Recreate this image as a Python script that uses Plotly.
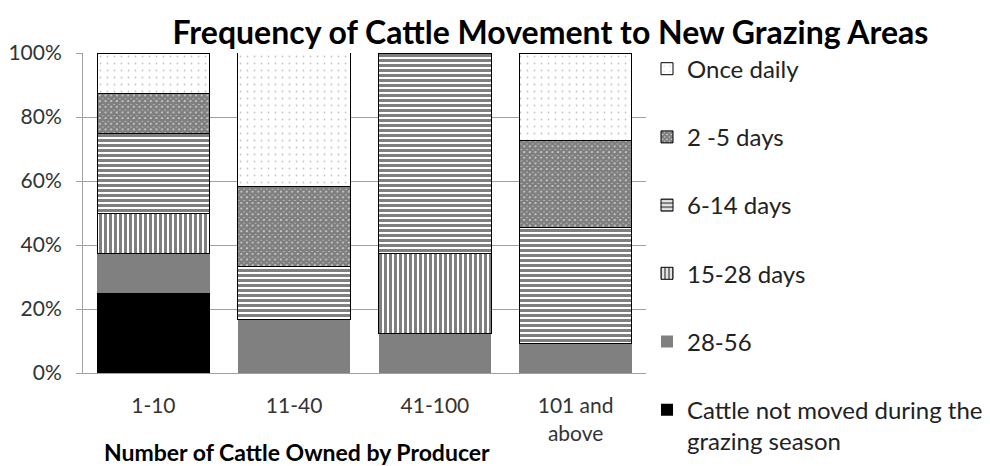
import plotly.graph_objects as go

categories = ["1-10", "11-40", "41-100", "101 and<br>above"]
series_names = [
    "Cattle not moved during the<br>grazing season",
    "28-56",
    "15-28 days",
    "6-14 days",
    "2 -5 days",
    "Once daily",
]
not_moved = [25.0, 0.0, 0.0, 0.0]
d28_56 = [12.5, 16.67, 12.5, 9.09]
d15_28 = [12.5, 0.0, 25.0, 0.0]
d6_14 = [25.0, 16.67, 62.5, 36.36]
d2_5 = [12.5, 25.0, 0.0, 27.27]
once_daily = [12.5, 41.67, 0.0, 27.28]
y_ticks = [0, 20, 40, 60, 80, 100]
y_tick_labels = ["0%", "20%", "40%", "60%", "80%", "100%"]

values = [not_moved, d28_56, d15_28, d6_14, d2_5, once_daily]

styles = [
    dict(color="#000000", pattern=None, line=0),
    dict(color="#808080", pattern=None, line=0),
    dict(color="#ffffff", pattern=dict(shape="|", size=5, solidity=0.6, fgcolor="#000000", bgcolor="#ffffff"), line=1),
    dict(color="#ffffff", pattern=dict(shape="-", size=5, solidity=0.6, fgcolor="#000000", bgcolor="#ffffff"), line=1),
    dict(color="#ffffff", pattern=dict(shape="x", size=4, solidity=0.9, fgcolor="#000000", bgcolor="#ffffff"), line=1),
    dict(color="#ffffff", pattern=dict(shape=".", size=7, solidity=0.05, fgcolor="#888888", bgcolor="#ffffff"), line=1),
]

fig = go.Figure()
n = len(series_names)
for i, (name, vals, st) in enumerate(zip(series_names, values, styles)):
    marker = dict(color=st["color"], line=dict(color="#000000", width=st["line"]))
    if st["pattern"]:
        marker["pattern"] = st["pattern"]
    fig.add_trace(go.Bar(
        name=name, x=categories, y=vals, marker=marker,
        legendgroup=f"g{i}", legendrank=n - i,
    ))

font_family = "Lato, Open Sans, sans-serif"

fig.update_layout(
    barmode="stack",
    bargap=0.2,
    width=990, height=466,
    paper_bgcolor="#ffffff", plot_bgcolor="#ffffff",
    margin=dict(l=83, r=344, t=53, b=93, autoexpand=False),
    font=dict(family=font_family, color="#222222"),
    title=dict(
        text="<b>Frequency of Cattle Movement to New Grazing Areas</b>",
        x=0.556, xanchor="center", y=0.93, yanchor="middle",
        font=dict(size=32, color="#000000", family=font_family),
    ),
    legend=dict(
        x=1.0018, xanchor="left", y=1.02, yanchor="top",
        traceorder="grouped",
        tracegroupgap=34,
        valign="top",
        maxheight=466,
        font=dict(size=24, color="#222222", family=font_family),
        bgcolor="rgba(0,0,0,0)",
    ),
    showlegend=True,
)

fig.update_yaxes(
    range=[0, 100],
    tickvals=y_ticks, ticktext=y_tick_labels,
    showgrid=True, gridcolor="#a0a0a0", gridwidth=1,
    showline=True, linecolor="#a0a0a0", linewidth=1,
    ticks="outside", ticklen=6, tickcolor="#a0a0a0",
    tickfont=dict(size=21, color="#333333"),
    ticklabelstandoff=10,
    zeroline=False,
)
fig.update_xaxes(
    showline=True, linecolor="#a0a0a0", linewidth=1,
    ticks="", tickfont=dict(size=21, color="#333333"),
    ticklabelstandoff=14,
)

fig.add_annotation(
    text="<b>Number of Cattle Owned by Producer</b>",
    xref="paper", yref="paper", x=(297 - 83) / 563, y=-0.247,
    xanchor="center", yanchor="middle", showarrow=False,
    font=dict(size=23, color="#000000", family=font_family),
)

fig.write_html("out.html", config={"displayModeBar": False},
               post_script="document.body.style.margin='0px';")
